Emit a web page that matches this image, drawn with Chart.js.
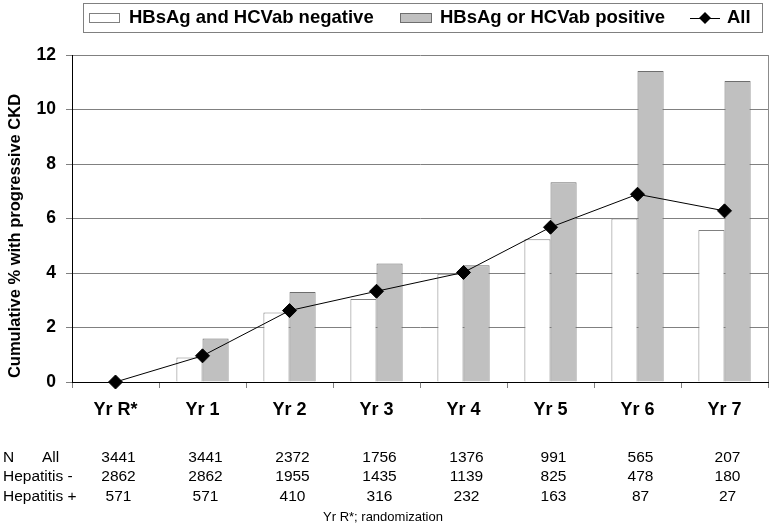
<!DOCTYPE html>
<html>
<head>
<meta charset="utf-8">
<script src="https://cdn.jsdelivr.net/npm/chart.js@4/dist/chart.umd.min.js"></script>
<style>
  body { margin: 0; background: #fff; }
  #wrap { width: 776px; height: 526px; }
</style>
</head>
<body>
<div id="wrap"><canvas id="myChart" width="776" height="526"></canvas></div>
<script>
const years = ['Yr R*', 'Yr 1', 'Yr 2', 'Yr 3', 'Yr 4', 'Yr 5', 'Yr 6', 'Yr 7'];
const negative = [0, 0.9, 2.55, 3.05, 3.97, 5.24, 6.0, 5.58];
const positive = [0, 1.6, 3.3, 4.35, 4.28, 7.33, 11.41, 11.05];
const allPatients = [0, 0.96, 2.62, 3.33, 4.02, 5.68, 6.89, 6.28];

// numbers at risk, table under the axis
const nAll = [3441, 3441, 2372, 1756, 1376, 991, 565, 207];
const nNeg = [2862, 2862, 1955, 1435, 1139, 825, 478, 180];
const nPos = [571, 571, 410, 316, 232, 163, 87, 27];
const rowLabels = ['Hepatitis -', 'Hepatitis +'];

const yTitle = 'Cumulative % with progressive CKD';
const footnote = 'Yr R*; randomization';
const FONT = '"Liberation Sans", Arial, sans-serif';

const extras = {
    id: 'extras',
    afterDraw(chart) {
        const ctx = chart.ctx;
        const area = chart.chartArea;
        const xs = chart.scales.x;
        const ds = chart.data.datasets;

        ctx.save();
        // right border of plot
        ctx.strokeStyle = '#8c8c8c';
        ctx.lineWidth = 1;
        ctx.beginPath();
        ctx.moveTo(Math.round(area.right) + 0.5, area.top);
        ctx.lineTo(Math.round(area.right) + 0.5, area.bottom);
        ctx.stroke();

        // y title
        ctx.fillStyle = '#000';
        ctx.save();
        ctx.translate(15, 236);
        ctx.rotate(-Math.PI / 2);
        ctx.font = 'bold 16.5px ' + FONT;
        ctx.textAlign = 'center';
        ctx.textBaseline = 'middle';
        ctx.fillText(yTitle, 0, 0);
        ctx.restore();

        // legend
        ctx.strokeStyle = '#808080';
        ctx.strokeRect(83.5, 3.5, 679, 29);
        ctx.font = 'bold 18.5px ' + FONT;
        ctx.textAlign = 'left';
        ctx.textBaseline = 'middle';
        const ly = 18;
        ctx.fillStyle = ds[0].backgroundColor;
        ctx.fillRect(89.5, 13.5, 30, 9);
        ctx.strokeStyle = ds[0].borderColor;
        ctx.strokeRect(89.5, 13.5, 30, 9);
        ctx.fillStyle = '#000';
        ctx.fillText(ds[0].label, 129, ly);
        ctx.fillStyle = ds[1].backgroundColor;
        ctx.fillRect(400.5, 13.5, 31, 9);
        ctx.strokeStyle = ds[1].borderColor;
        ctx.strokeRect(400.5, 13.5, 31, 9);
        ctx.fillStyle = '#000';
        ctx.fillText(ds[1].label, 440, ly);
        ctx.strokeStyle = '#000';
        ctx.beginPath();
        ctx.moveTo(690, ly + 0.5);
        ctx.lineTo(720, ly + 0.5);
        ctx.stroke();
        ctx.beginPath();
        ctx.moveTo(705, ly - 6);
        ctx.lineTo(711, ly);
        ctx.lineTo(705, ly + 6);
        ctx.lineTo(699, ly);
        ctx.closePath();
        ctx.fill();
        ctx.fillText(ds[2].label, 727, ly);

        // table of numbers
        ctx.font = '15.5px ' + FONT;
        ctx.fillText('N', 3, 458);
        ctx.fillText('All', 42, 458);
        ctx.fillText(rowLabels[0], 3, 477);
        ctx.fillText(rowLabels[1], 3, 497);
        ctx.textAlign = 'center';
        const rows = [[nAll, 458], [nNeg, 477], [nPos, 497]];
        rows.forEach(([vals, y]) => {
            vals.forEach((v, i) => {
                ctx.fillText(String(v), xs.getPixelForValue(i) + 3, y);
            });
        });
        ctx.font = '13px ' + FONT;
        ctx.fillText(footnote, 383, 517);
        ctx.restore();
    }
};

new Chart(document.getElementById('myChart').getContext('2d'), {
    type: 'bar',
    data: {
        labels: years,
        datasets: [{
            label: 'HBsAg and HCVab negative',
            data: negative,
            backgroundColor: '#ffffff',
            borderColor: '#808080',
            borderWidth: 1,
            order: 1
        }, {
            label: 'HBsAg or HCVab positive',
            data: positive,
            backgroundColor: '#c0c0c0',
            borderColor: '#6e6e6e',
            borderWidth: 1,
            order: 1
        }, {
            type: 'line',
            label: 'All',
            data: allPatients,
            borderColor: '#000',
            borderWidth: 1,
            backgroundColor: '#000',
            pointStyle: 'rectRot',
            pointRadius: 7,
            pointBackgroundColor: '#000',
            pointBorderColor: '#000',
            clip: false,
            order: 0
        }]
    },
    options: {
        responsive: false,
        animation: false,
        categoryPercentage: 0.6,
        barPercentage: 1.0,
        layout: { padding: { top: 55, right: 4, left: 0, bottom: 0 } },
        plugins: {
            legend: { display: false },
            tooltip: { enabled: false }
        },
        scales: {
            x: {
                offset: true,
                grid: { offset: true, drawOnChartArea: false, drawTicks: true, tickLength: 6, color: '#808080' },
                border: { color: '#000' },
                ticks: { color: '#000', padding: 11, font: { family: FONT, size: 18, weight: 'bold' } },
                afterFit: (scale) => { scale.height = 144; }
            },
            y: {
                min: 0,
                max: 12,
                ticks: { stepSize: 2, color: '#000', padding: 10, font: { family: FONT, size: 17.5, weight: 'bold' } },
                grid: { color: '#808080', tickLength: 6 },
                border: { color: '#000' },
                afterFit: (scale) => { scale.width = 72; }
            }
        }
    },
    plugins: [extras]
});
</script>
</body>
</html>
